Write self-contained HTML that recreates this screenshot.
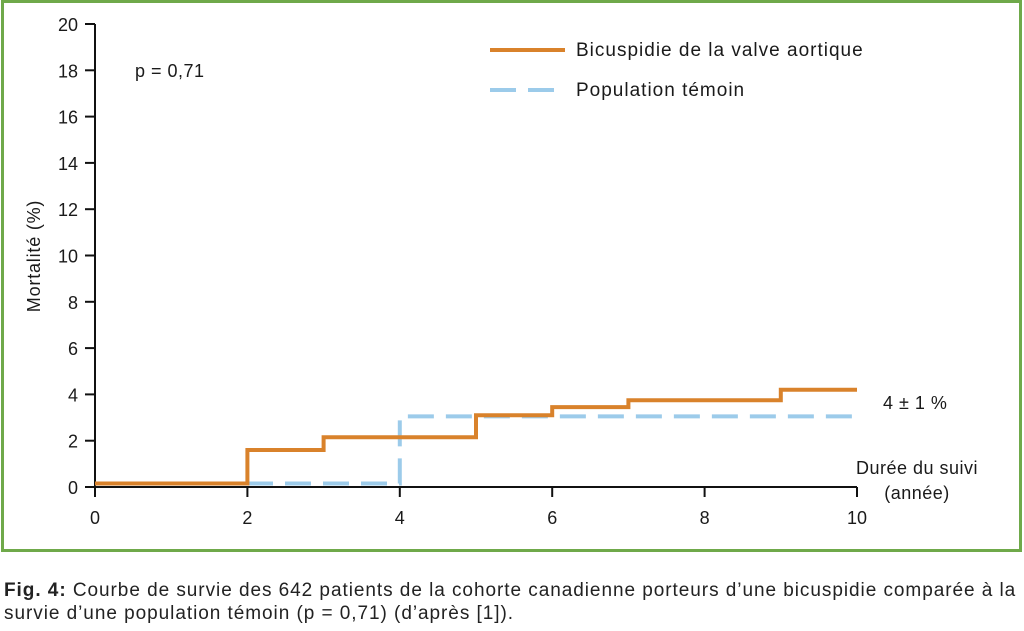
<!DOCTYPE html>
<html><head><meta charset="utf-8">
<style>
body{margin:0;background:#fff;width:1024px;height:631px;overflow:hidden;font-family:"Liberation Sans",sans-serif;}
svg text{font-family:"Liberation Sans",sans-serif;fill:#1a1a1a;}
.cap{position:absolute;left:4px;top:579px;font-size:19px;line-height:23px;color:#222;letter-spacing:0.95px;white-space:nowrap;}
</style></head><body>
<svg width="1024" height="631" style="position:absolute;left:0;top:0">
<rect x="2.5" y="1.5" width="1018" height="549" fill="none" stroke="#6fa94a" stroke-width="3"/>
<g id="axes"></g>
<g id="series"></g>
<text x="135" y="77" font-size="18" letter-spacing="0.5">p = 0,71</text>
<line x1="490" y1="50" x2="565" y2="50" stroke="#d9822b" stroke-width="4"/>
<text x="576" y="56" font-size="19" letter-spacing="1">Bicuspidie de la valve aortique</text>
<line x1="490" y1="90" x2="565" y2="90" stroke="#9ccbea" stroke-width="4" stroke-dasharray="26,12"/>
<text x="576" y="96" font-size="19" letter-spacing="1">Population témoin</text>
<text x="883" y="409" font-size="18" letter-spacing="0.5">4 ± 1 %</text>
<text x="917" y="474" font-size="18" letter-spacing="0.5" text-anchor="middle">Durée du suivi</text>
<text x="917" y="499" font-size="18" letter-spacing="0.5" text-anchor="middle">(année)</text>
<text transform="translate(40,256) rotate(-90)" font-size="18" letter-spacing="0.8" text-anchor="middle">Mortalité (%)</text>
</svg>
<div class="cap"><b>Fig. 4:</b> Courbe de survie des 642 patients de la cohorte canadienne porteurs d’une bicuspidie comparée à la<br>survie d’une population témoin (p = 0,71) (d’après [1]).</div>
<script>
const xTicks=[0,2,4,6,8,10];
const yTicks=[0,2,4,6,8,10,12,14,16,18,20];
const bicX=[0,2,3,5,6,7,9,10];
const bicY=[0.15,1.6,2.15,3.1,3.45,3.75,4.2,4.2];
const temX=[0,4,10];
const temY=[0.15,3.05,3.05];
const NS="http://www.w3.org/2000/svg";
const X=v=>95+v*76.2, Y=v=>487-v*23.15;
function mk(t,a,p){const e=document.createElementNS(NS,t);for(const k in a)e.setAttribute(k,a[k]);p.appendChild(e);return e;}
const ax=document.getElementById('axes'), se=document.getElementById('series');
let l=mk('line',{x1:X(0),y1:Y(0),x2:X(10),y2:Y(0),stroke:'#111','stroke-width':2},ax);


l=mk('line',{x1:X(0),y1:Y(0),x2:X(0),y2:Y(20),stroke:'#111','stroke-width':2},ax);


xTicks.forEach(v=>{
 const t=mk('line',{x1:X(v),y1:Y(0),x2:X(v),y2:Y(0)+10,stroke:'#111','stroke-width':2},ax);
 
 
 const s=mk('text',{x:X(v),y:Y(0)+37,'font-size':18,'text-anchor':'middle'},ax);s.textContent=v;
 
 
});
yTicks.forEach(v=>{
 const t=mk('line',{x1:X(0)-10,y1:Y(v),x2:X(0),y2:Y(v),stroke:'#111','stroke-width':2},ax);
 
 
 const s=mk('text',{x:X(0)-17,y:Y(v)+7,'font-size':18,'text-anchor':'end'},ax);s.textContent=v;
 
 
});
function step(xs,ys){let d='M'+X(xs[0])+','+Y(ys[0]);for(let i=1;i<xs.length;i++){d+=' H'+X(xs[i])+' V'+Y(ys[i]);}return d;}
let p=mk('path',{d:step(temX,temY),fill:'none',stroke:'#9ccbea','stroke-width':4,'stroke-dasharray':'26,12'},se);


p=mk('path',{d:step(bicX,bicY),fill:'none',stroke:'#d9822b','stroke-width':4},se);


</script>
</body></html>
